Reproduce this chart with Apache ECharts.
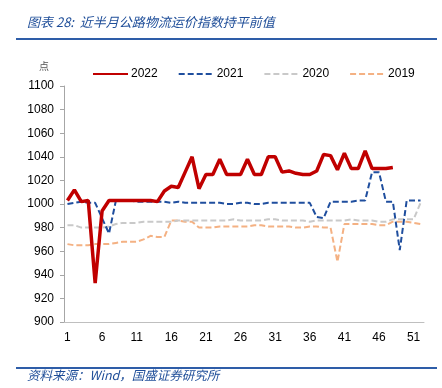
<!DOCTYPE html>
<html>
<head>
<meta charset="utf-8">
<script src="https://cdn.jsdelivr.net/npm/echarts@6/dist/echarts.min.js"></script>
<style>
html,body{margin:0;padding:0;background:#fff;}
#chart{width:442px;height:388px;}
</style>
</head>
<body>
<div id="chart"></div>
<script>
const weeks = Array.from({length: 52}, (_, i) => String(i + 1));
const s2022 = [1003,1012,1002,1003,933,994,1003,1003,1003,1003,1003,1003,1003,1002,1011,1015,1014,1027,1040,1013,1025,1025,1038,1025,1025,1025,1038,1025,1025,1040,1040,1027,1028,1026,1025,1025,1028,1042,1041,1029,1043,1030,1030,1045,1030,1030,1030,1031];
const s2021 = [1000,1001,1002,1001,1001,988,975,1003,1003,1003,1002,1002,1002,1002,1002,1001,1002,1001,1001,1001,1001,1001,1001,1000,1000,1001,1001,1000,1000,1001,1001,1001,1001,1001,1001,1001,989,988,1002,1002,1002,1002,1003,1003,1027,1027,1002,1002,961,1003,1003,1003];
const s2020 = [982,982,980,980,980,980,981,983,984,984,984,985,985,985,985,985,986,986,986,986,986,986,986,986,987,986,986,986,986,987,987,986,986,986,986,985,986,986,986,986,986,987,986,986,986,985,985,987,987,987,987,1001];
const s2019 = [966,965,965,965,966,966,966,967,968,968,968,970,973,972,972,986,986,985,985,980,980,980,981,981,981,981,981,982,982,981,981,981,981,980,980,981,981,980,980,951,983,983,983,983,983,982,982,985,985,985,984,983];
const seriesNames = ['2022','2021','2020','2019'];
const yTicks = {min: 900, max: 1100, step: 20};

const chart = echarts.init(document.getElementById('chart'));
const fontFam = '"Liberation Sans", Arial, sans-serif';
chart.setOption({
  animation: false,
  backgroundColor: '#fff',
  grid: {left: 64, right: 18, top: 86, bottom: 66},
  legend: {
    top: 63, left: 87,
    itemWidth: 35, itemHeight: 10, itemGap: 20,
    itemStyle: {opacity: 0},
    textStyle: {fontSize: 12, color: '#000', fontFamily: fontFam, padding: [0, 0, 0, -2]},
    data: seriesNames
  },
  xAxis: {
    type: 'category', data: weeks, boundaryGap: true,
    axisLine: {lineStyle: {color: '#BFBFBF', width: 1}},
    axisTick: {show: false},
    axisLabel: {interval: 4, color: '#000', fontSize: 12, fontFamily: fontFam, margin: 10}
  },
  yAxis: {
    type: 'value', min: yTicks.min, max: yTicks.max, interval: yTicks.step,
    splitLine: {show: false},
    axisLine: {show: true, lineStyle: {color: '#A6A6A6'}},
    axisTick: {show: true, inside: false, length: 4, lineStyle: {color: '#A6A6A6'}},
    axisLabel: {color: '#000', fontSize: 12, fontFamily: fontFam, margin: 10, formatter: v => String(v)}
  },
  series: [
    {name: '2022', type: 'line', data: s2022, symbol: 'none', z: 5,
     lineStyle: {color: '#C00000', width: 3.5}, itemStyle: {color: '#C00000'}},
    {name: '2021', type: 'line', data: s2021, symbol: 'none', z: 4,
     lineStyle: {color: '#1F4E9E', width: 2, type: [6, 3]}, itemStyle: {color: '#1F4E9E'}},
    {name: '2020', type: 'line', data: s2020, symbol: 'none', z: 3,
     lineStyle: {color: '#C9C9C9', width: 2, type: [6, 3]}, itemStyle: {color: '#C9C9C9'}},
    {name: '2019', type: 'line', data: s2019, symbol: 'none', z: 2,
     lineStyle: {color: '#F4B183', width: 2, type: [6, 3]}, itemStyle: {color: '#F4B183'}}
  ],
  graphic: [
    {type: 'text', left: 27, top: 16, style: {text: '图表 28:  近半月公路物流运价指数持平前值', fontSize: 13, fontStyle: 'italic', fill: '#1F4E99', fontFamily: '"Noto Sans CJK SC", sans-serif'}},
    {type: 'rect', shape: {x: 16, y: 38, width: 421, height: 2}, style: {fill: '#2E5DA8'}},
    {type: 'text', left: 39, top: 61, style: {text: '点', fontSize: 10, fill: '#555', fontFamily: '"Noto Sans CJK SC", sans-serif'}},
    {type: 'rect', shape: {x: 16, y: 367, width: 421, height: 2}, style: {fill: '#2E5DA8'}},
    {type: 'text', left: 27, top: 369, style: {text: '资料来源：Wind，国盛证券研究所', fontSize: 12.5, fontStyle: 'italic', fill: '#1F4E99', fontFamily: '"Noto Sans CJK SC", sans-serif'}}
  ]
});
</script>
</body>
</html>
